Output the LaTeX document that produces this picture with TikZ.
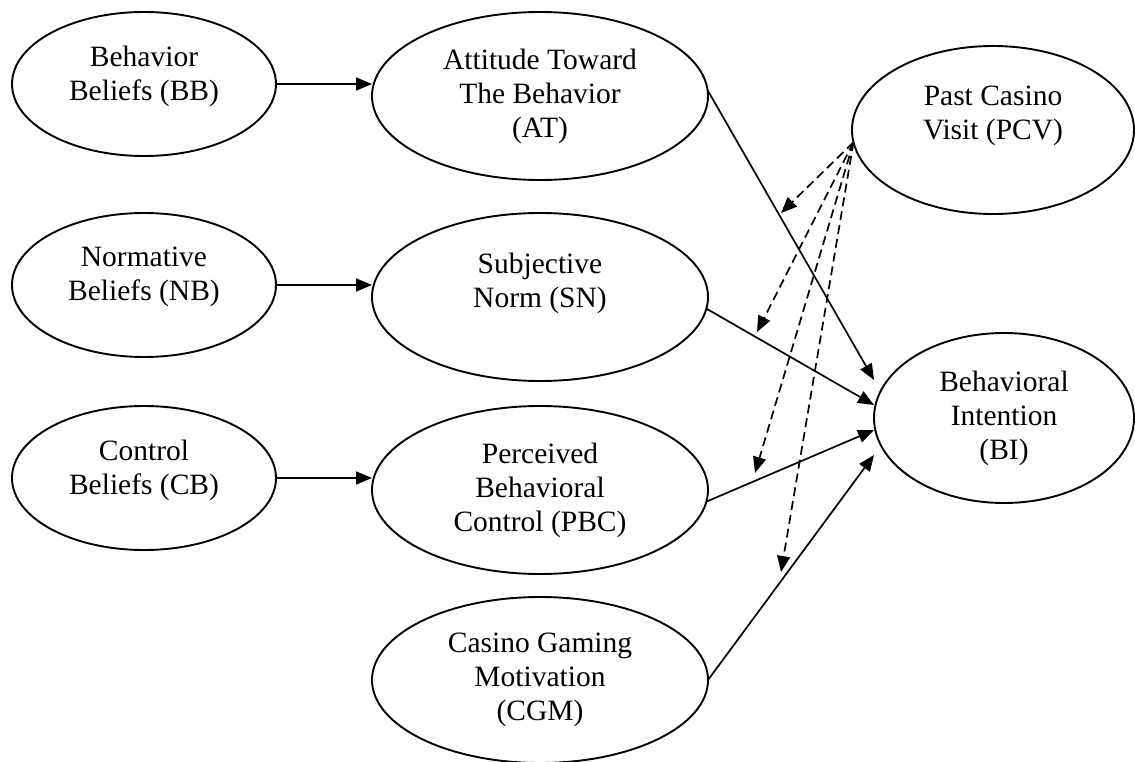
\documentclass[tikz,border=0pt]{standalone}
\usepackage{fontspec}
\setmainfont{Liberation Serif}
\usetikzlibrary{arrows.meta,shapes.geometric,calc}
\begin{document}
\begin{tikzpicture}[x=1pt,y=-1pt,
  construct/.style={ellipse,draw,line width=1.9pt,inner sep=0pt,outer sep=0pt,
    align=center,font=\fontsize{29.5}{34}\selectfont},
  belief/.style={construct,minimum width=264pt,minimum height=144pt},
  factor/.style={construct,minimum width=336pt,minimum height=168pt},
  link/.style={line width=1.7pt,-{Triangle[length=16pt,width=13pt]}},
  assoc/.style={link,dash pattern=on 9pt off 5pt}]
\useasboundingbox (0,0) rectangle (1135,762);

% belief constructs (left column)
\node[belief] (BB) at (144,84)  {Behavior\\Beliefs (BB)\\[-12pt]\mbox{}};
\node[belief] (NB) at (144,285) {Normative\\Beliefs (NB)\\[-12pt]\mbox{}};
\node[belief] (CB) at (144,478) {Control\\Beliefs (CB)\\[-12pt]\mbox{}};

% TPB determinants (middle column)
\node[factor] (AT)  at (540,96)  {Attitude Toward\\The Behavior\\(AT)};
\node[factor] (SN)  at (540,297) {Subjective\\Norm (SN)\\\mbox{}};
\node[factor] (PBC) at (540,490) {Perceived\\Behavioral\\Control (PBC)};
\node[factor,minimum height=166pt] (CGM) at (540,680) {Casino Gaming\\Motivation\\(CGM)};

% right column
\node[construct,minimum width=282pt,minimum height=168pt] (PCV) at (993,130) {Past Casino\\Visit (PCV)\\\mbox{}};
\node[construct,minimum width=260pt,minimum height=170pt] (BI) at (1004,418) {Behavioral\\Intention\\(BI)};

% beliefs -> determinants
\draw[link] (BB.east) -- (BB.east -| AT.west);
\draw[link] (NB.east) -- (NB.east -| SN.west);
\draw[link] (CB.east) -- (CB.east -| PBC.west);

% determinants -> intention
\draw[link] (AT.2)    -- ($(BI.west)+(0,-38)$);
\draw[link] (SN.-4.5) -- ($(BI.west)+(0,-13)$);
\draw[link] (PBC.-4)  -- ($(BI.west)+(0,12)$);
\draw[link] (CGM.east) -- ($(BI.west)+(0,37)$);

% moderating effects of past visits
\coordinate (m1) at (781,213);
\coordinate (m2) at (757,332);
\coordinate (m3) at (755,473);
\coordinate (m4) at (781,572);
\foreach \m in {m1,m2,m3,m4}
  \draw[assoc] (PCV.185) -- (\m);
\end{tikzpicture}
\end{document}
